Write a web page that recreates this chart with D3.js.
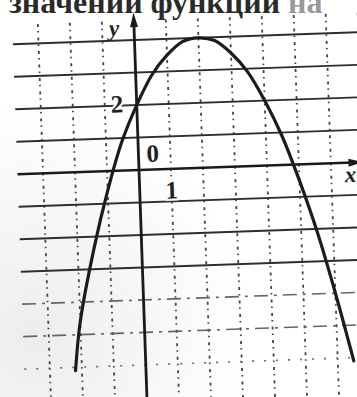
<!DOCTYPE html>
<html>
<head>
<meta charset="utf-8">
<script src="https://cdn.jsdelivr.net/npm/d3@7"></script>
<style>
  html, body { margin: 0; padding: 0; background: #fff; }
  svg { display: block; }
</style>
</head>
<body>
<div id="chart"></div>
<script>
// точки параболы
const curveX = [-2.2, -2, -1.5, -1, -0.5, 0, 0.5, 1, 1.5, 2, 2.5, 3, 3.5, 4, 4.5, 5, 5.5, 6, 6.5];
const curveY = [-6.1, -4.6, -2.4, -0.6, 0.9, 2, 2.9, 3.5, 3.9, 4, 3.9, 3.5, 2.9, 2, 0.9, -0.5, -2.1, -4, -6.1];

// линии сетки
const gridX = [-3, -2, -1, 1, 2, 3, 4, 5, 6, 7];
const gridYSolid = [4, 3, 2, 1, -1, -2, -3];
const gridYDashed = [-4, -5, -6];

// подписи
const tickLabels = [{ t: "2", x: -0.62, y: 2.05 }, { t: "0", x: 0.45, y: 0.5 }, { t: "1", x: 1.0, y: -0.65 }];
const headerWords = ["значений функции ", "на"];

const W = 357, H = 397;
const ox = 139, oy = 170;      // начало координат на картинке
const ux = 32, uy = 32.5;      // пикселей на единицу

const svg = d3.select("#chart").append("svg")
    .attr("width", W).attr("height", H);

// лёгкий серый тон скана внизу слева
const grad = svg.append("defs").append("radialGradient")
    .attr("id", "scan").attr("cx", "0.1").attr("cy", "0.85").attr("r", "0.6");
grad.append("stop").attr("offset", "0").attr("stop-color", "#ededed");
grad.append("stop").attr("offset", "1").attr("stop-color", "#ffffff");
svg.append("rect").attr("width", W).attr("height", H).attr("fill", "url(#scan)");

const x = d3.scaleLinear().domain([0, 1]).range([ox, ox + ux]);
const y = d3.scaleLinear().domain([0, 1]).range([oy, oy - uy]);

// всё поле немного повёрнуто, как на скане
const g = svg.append("g").attr("transform", `rotate(-2,${ox},${oy})`);

// вертикальные штриховые линии
g.selectAll(".vg").data(gridX).join("line")
    .attr("class", "vg")
    .attr("x1", d => x(d)).attr("x2", d => x(d))
    .attr("y1", y(4.6)).attr("y2", y(-7.2))
    .attr("stroke", "#444").attr("stroke-width", 1.8)
    .attr("stroke-dasharray", "3,4,1.5,5");

// горизонтальные линии
g.selectAll(".hg").data(gridYSolid).join("line")
    .attr("class", "hg")
    .attr("x1", x(-3.8)).attr("x2", x(7.6))
    .attr("y1", d => y(d)).attr("y2", d => y(d))
    .attr("stroke", "#2e2e2e").attr("stroke-width", 1.9);

g.selectAll(".hgd").data(gridYDashed).join("line")
    .attr("class", "hgd")
    .attr("x1", x(-3.8)).attr("x2", x(7.6))
    .attr("y1", d => y(d)).attr("y2", d => y(d))
    .attr("stroke", "#666").attr("stroke-width", 1.6)
    .attr("stroke-dasharray", d => d === -6 ? "2,10" : "14,6,3,6");

// оси
g.append("line")
    .attr("x1", x(-3.8)).attr("x2", x(6.7))
    .attr("y1", y(0)).attr("y2", y(0))
    .attr("stroke", "#1a1a1a").attr("stroke-width", 2.4);
g.append("path")
    .attr("d", `M${x(7.0)},${y(0)} L${x(6.55)},${y(0) - 4} L${x(6.55)},${y(0) + 4} Z`)
    .attr("fill", "#1a1a1a");

g.append("line")
    .attr("x1", x(0)).attr("x2", x(0))
    .attr("y1", y(4.55)).attr("y2", y(-7.6))
    .attr("stroke", "#1a1a1a").attr("stroke-width", 2.8);
g.append("path")
    .attr("d", `M${x(0)},${y(4.85)} L${x(0) - 4},${y(4.4)} L${x(0) + 4},${y(4.4)} Z`)
    .attr("fill", "#1a1a1a");

// парабола
const pts = curveX.map((d, i) => [d, curveY[i]]);
g.append("path")
    .datum(pts)
    .attr("fill", "none")
    .attr("stroke", "#1c1c1c")
    .attr("stroke-width", 3.2)
    .attr("stroke-linecap", "round")
    .attr("d", d3.line().x(d => x(d[0])).y(d => y(d[1])).curve(d3.curveCatmullRom));

// подписи чисел
g.selectAll(".num").data(tickLabels).join("text")
    .attr("class", "num")
    .attr("x", d => x(d.x)).attr("y", d => y(d.y))
    .attr("text-anchor", "middle")
    .attr("dominant-baseline", "central")
    .attr("font-family", "'Liberation Serif', 'DejaVu Serif', serif")
    .attr("font-weight", "bold")
    .attr("font-size", 25)
    .attr("fill", "#222")
    .attr("stroke", "#fff").attr("stroke-width", 4)
    .attr("paint-order", "stroke")
    .text(d => d.t);

g.append("text")
    .attr("x", x(-0.62)).attr("y", y(4.15))
    .attr("text-anchor", "middle")
    .attr("font-family", "'Liberation Serif', 'DejaVu Serif', serif")
    .attr("font-style", "italic").attr("font-weight", "bold")
    .attr("font-size", 23).attr("fill", "#222")
    .text("y");

g.append("text")
    .attr("x", x(6.6)).attr("y", y(-0.6))
    .attr("text-anchor", "middle")
    .attr("font-family", "'Liberation Serif', 'DejaVu Serif', serif")
    .attr("font-style", "italic").attr("font-weight", "bold")
    .attr("font-size", 23).attr("fill", "#222")
    .text("x");

// обрезанная строка текста сверху
const head = svg.append("text")
    .attr("x", 9).attr("y", 13)
    .attr("font-family", "'Liberation Serif', 'DejaVu Serif', serif")
    .attr("font-weight", "bold")
    .attr("font-size", 32)
    .attr("fill", "#2a2a2a");
head.append("tspan").text(headerWords[0]);
head.append("tspan").attr("fill", "#999").text(headerWords[1]);
</script>
</body>
</html>
